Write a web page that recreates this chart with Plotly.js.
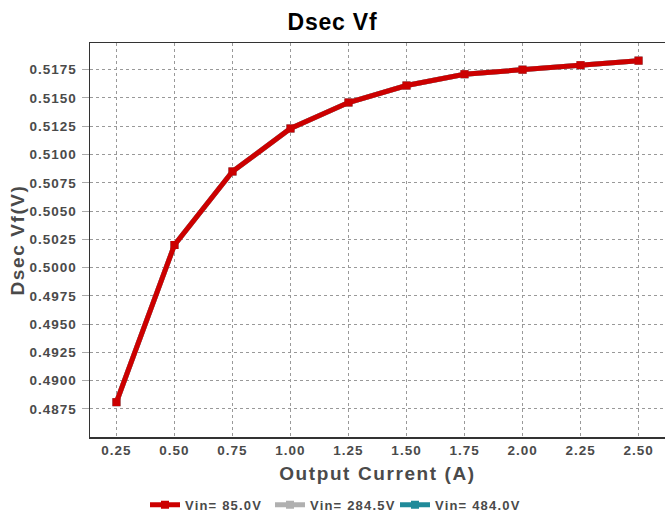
<!DOCTYPE html>
<html>
<head>
<meta charset="utf-8">
<script src="https://cdn.plot.ly/plotly-3.0.1.min.js"></script>
<style>
html,body{margin:0;padding:0;background:#fff;}
#chart{width:665px;height:515px;}
#chart .xtick text, #chart .ytick text{letter-spacing:1px;}
#chart .gtitle{letter-spacing:0.8px;}
#chart .xtitle, #chart .ytitle{letter-spacing:1.6px;}
#chart .legendtext{letter-spacing:1.2px;}
</style>
</head>
<body>
<div id="chart"></div>
<script>
const current = [0.25, 0.50, 0.75, 1.00, 1.25, 1.50, 1.75, 2.00, 2.25, 2.50];
const vf85 = [0.4881, 0.5020, 0.5085, 0.5123, 0.5146, 0.5161, 0.5171, 0.5175, 0.5179, 0.5183];
const vf2845 = [0.4881, 0.5020, 0.5085, 0.5123, 0.5146, 0.5161, 0.5171, 0.5175, 0.5179, 0.5183];
const vf484 = [0.4881, 0.5020, 0.5085, 0.5123, 0.5146, 0.5161, 0.5171, 0.5175, 0.5179, 0.5183];
const seriesNames = ['Vin= 85.0V', 'Vin= 284.5V', 'Vin= 484.0V'];
const seriesColors = ['#cc0000', '#b0b0b0', '#1f8a99'];
const yTicks = [0.4875, 0.4900, 0.4925, 0.4950, 0.4975, 0.5000, 0.5025, 0.5050, 0.5075, 0.5100, 0.5125, 0.5150, 0.5175];
const xTicks = [0.25, 0.50, 0.75, 1.00, 1.25, 1.50, 1.75, 2.00, 2.25, 2.50];

const seriesValues = [vf85, vf2845, vf484];
const order = [2, 1, 0];
const traces = order.map(i => ({
  x: current, y: seriesValues[i], name: seriesNames[i], type: 'scatter', mode: 'lines+markers',
  line: {color: seriesColors[i], width: 5},
  marker: {color: seriesColors[i], symbol: 'square', size: 8},
  legendrank: i + 1
}));

const fam = 'Liberation Sans, Arial, sans-serif';
const tickFont = {family: fam, size: 13.5, color: '#4a4a4a', weight: 'bold'};
const layout = {
  width: 665, height: 515,
  margin: {l: 90, r: 0, t: 43, b: 78},
  paper_bgcolor: '#fff', plot_bgcolor: '#fff',
  title: {text: 'Dsec Vf', x: 0.5, xref: 'container', xanchor: 'center', y: 1 - 22/515, yref: 'container', yanchor: 'middle',
    font: {family: fam, size: 23, color: '#000', weight: 'bold'}},
  xaxis: {
    range: [0.136, 2.614], tickvals: xTicks, ticktext: xTicks.map(v => v.toFixed(2)),
    showgrid: true, gridcolor: '#999', griddash: 'dot', gridwidth: 1,
    showline: true, linecolor: '#333', linewidth: 1.5, mirror: true,
    ticks: '', zeroline: false, tickfont: tickFont,
    title: {text: 'Output Current (A)', standoff: 10, font: {family: fam, size: 19, color: '#4a4a4a', weight: 'bold'}}
  },
  yaxis: {
    range: [0.48502, 0.51986], tickvals: yTicks, ticktext: yTicks.map(v => v.toFixed(4)),
    showgrid: true, gridcolor: '#999', griddash: 'dot', gridwidth: 1,
    showline: true, linecolor: '#333', linewidth: 1.5,
    ticks: 'outside', ticklen: 7, tickcolor: '#aaa', zeroline: false, tickfont: tickFont,
    ticklabelstandoff: 2,
    title: {text: 'Dsec Vf(V)', standoff: 6, font: {family: fam, size: 19, color: '#4a4a4a', weight: 'bold'}}
  },
  showlegend: true,
  legend: {orientation: 'h', xref: 'container', yref: 'container', x: 0.5, xanchor: 'center', y: 0.02, yanchor: 'middle',
    font: {family: fam, size: 13, color: '#4a4a4a', weight: 'bold'}, itemwidth: 30, tracegroupgap: 0,
    entrywidth: 80, entrywidthmode: 'pixels'}
};
Plotly.newPlot('chart', traces, layout, {displayModeBar: false, staticPlot: true});
</script>
</body>
</html>
